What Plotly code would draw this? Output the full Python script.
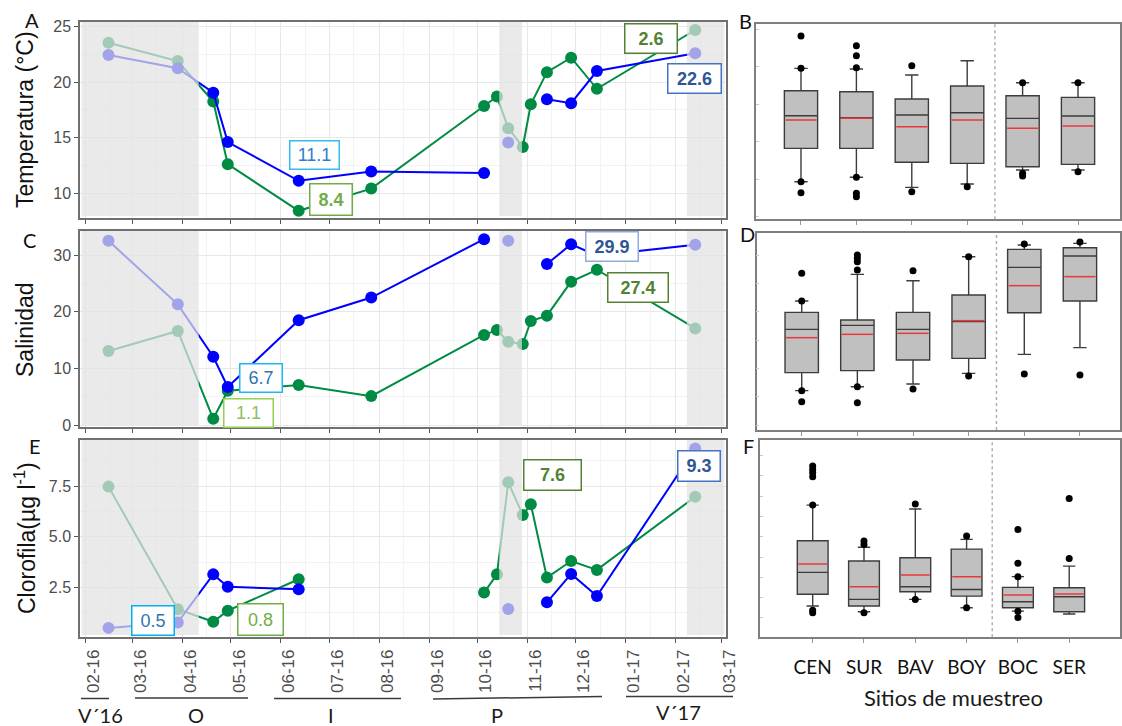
import plotly.graph_objects as go
from datetime import datetime, timedelta

W, H = 1122, 726
def fx(p): return p / W
def fy(p): return 1 - p / H

# ---------------- data: time series (left panels) ----------------
fechas = ["2016-02-15", "2016-03-29", "2016-04-20", "2016-04-29", "2016-06-12", "2016-07-27",
          "2016-10-05", "2016-10-13", "2016-10-20", "2016-10-29", "2016-11-03", "2016-11-13",
          "2016-11-28", "2016-12-14", "2017-02-13"]
temp_azul = [22.45, 21.25, 19.05, 14.6, 11.1, 11.95, 11.8, None, 14.55, None, None, 18.45, 18.1, 21.0, 22.6]
temp_verde = [23.55, 21.9, 18.25, 12.6, 8.4, 10.4, 17.85, 18.7, 15.85, 14.15, 18.0, 20.9, 22.2, 19.4, 24.7]
sal_azul = [32.5, 21.3, 12.05, 6.7, 18.5, 22.5, 32.8, None, 32.5, None, None, 28.4, 31.9, 29.9, 31.8]
sal_verde = [13.05, 16.6, 1.1, 6.05, 7.05, 5.1, 15.9, 16.75, 14.7, 14.3, 18.35, 19.3, 25.3, 27.4, 17.05]
clo_azul = [0.5, 0.77, 3.14, 2.53, 2.4, None, None, None, 1.43, None, None, 1.76, 3.16, 2.07, 9.35]
clo_verde = [7.47, 1.42, 0.8, 1.35, 2.9, None, 2.24, 3.14, 7.68, 6.07, 6.6, 2.98, 3.8, 3.36, 6.97]

estaciones = ["V´16", "O", "I", "P", "V´17"]

# ---------------- data: box plots (right panels) ----------------
sitios = ["CEN", "SUR", "BAV", "BOY", "BOC", "SER"]

temp_q1 = [14.13, 14.13, 12.27, 12.13, 11.68, 12.0]
temp_med = [18.48, 18.21, 18.57, 18.88, 18.13, 18.44]
temp_q3 = [21.81, 21.68, 20.71, 22.44, 21.15, 20.93]
temp_lo = [9.68, 10.27, 8.93, 9.37, 11.24, 11.24]
temp_hi = [24.8, 24.71, 23.91, 25.81, 22.88, 22.88]
temp_media = [17.91, 18.13, 17.01, 17.91, 16.8, 17.11]
temp_atip = [[29.11, 24.8, 9.68, 8.21], [27.81, 26.48, 24.88, 10.27, 8.13, 7.68],
             [25.15, 8.35], [9.01], [22.88, 10.8, 10.44], [22.88, 11.01]]

sal_q1 = [9.24, 9.59, 11.47, 11.76, 19.82, 21.88]
sal_med = [16.88, 17.59, 16.88, 18.24, 27.82, 29.82]
sal_q3 = [19.88, 18.53, 19.88, 22.94, 31.0, 31.29]
sal_lo = [6.06, 6.76, 7.24, 9.12, 12.47, 13.65]
sal_hi = [21.88, 26.59, 25.47, 29.7, 31.76, 32.06]
sal_media = [15.41, 16.0, 16.18, 18.41, 24.59, 26.18]
sal_atip = [[26.77, 21.88, 6.06, 4.12], [30.0, 29.41, 28.82, 27.35, 6.76, 3.94],
            [27.24, 6.35], [29.7, 8.65], [31.94, 9.0], [32.29, 8.82]]

clo_q1 = [2.16, 1.58, 2.29, 2.07, 1.50, 1.30]
clo_med = [3.24, 1.91, 2.53, 2.40, 1.79, 2.04]
clo_q3 = [4.80, 3.80, 3.96, 4.39, 2.50, 2.48]
clo_lo = [1.58, 1.30, 1.91, 1.50, 1.33, 1.19]
clo_hi = [6.56, 4.48, 6.37, 4.87, 3.03, 3.55]
clo_media = [3.65, 2.53, 3.11, 3.03, 2.12, 2.17]
clo_atip = [[8.49, 8.32, 8.16, 7.96, 6.56, 1.38, 1.25], [4.79, 4.62, 1.25], [6.61, 1.91],
            [5.03, 1.50], [5.36, 3.69, 3.03, 1.33, 1.02], [6.89, 3.93]]

# ---------------- styles ----------------
ARIAL = "Liberation Sans, Arial, sans-serif"
CALIBRI = "Lato, Open Sans, sans-serif"
AZUL = "#0000ff"
VERDE = "#008b45"
TICKC = "#4d4d4d"
X_RANGE = ["2016-01-28 08:00", "2017-03-04 02:00"]

fig = go.Figure()

left = [("x", "y", temp_verde, temp_azul), ("x2", "y2", sal_verde, sal_azul), ("x3", "y3", clo_verde, clo_azul)]
for xa, ya, verde, azul in left:
    for vals, col in ((verde, VERDE), (azul, AZUL)):
        fig.add_trace(go.Scatter(x=fechas, y=vals, xaxis=xa, yaxis=ya, mode="lines+markers",
                                 connectgaps=False, line=dict(color=col, width=2),
                                 marker=dict(color=col, size=12), showlegend=False, hoverinfo="skip"))

# right panels
BOXW = 0.6
right = [("x4", "y4", temp_q1, temp_med, temp_q3, temp_lo, temp_hi, temp_media, temp_atip),
         ("x5", "y5", sal_q1, sal_med, sal_q3, sal_lo, sal_hi, sal_media, sal_atip),
         ("x6", "y6", clo_q1, clo_med, clo_q3, clo_lo, clo_hi, clo_media, clo_atip)]
for xa, ya, q1, med, q3, lo, hi, media, atip in right:
    pos = list(range(len(sitios)))
    fig.add_trace(go.Box(x=pos, q1=q1, median=med, q3=q3, lowerfence=lo, upperfence=hi,
                         xaxis=xa, yaxis=ya, width=BOXW, whiskerwidth=0.4, boxpoints=False,
                         fillcolor="#c0c0c0", line=dict(color="#3c3c3c", width=1.4),
                         showlegend=False, hoverinfo="skip"))
    mx, my = [], []
    for i, m in enumerate(media):
        mx += [i - BOXW / 2 + 0.02, i + BOXW / 2 - 0.02, None]
        my += [m, m, None]
    fig.add_trace(go.Scatter(x=mx, y=my, xaxis=xa, yaxis=ya, mode="lines",
                             line=dict(color="#e8383d", width=1.5), showlegend=False, hoverinfo="skip"))
    ox, oy = [], []
    for i, lst in enumerate(atip):
        ox += [i] * len(lst)
        oy += lst
    fig.add_trace(go.Scatter(x=ox, y=oy, xaxis=xa, yaxis=ya, mode="markers",
                             marker=dict(color="black", size=7), showlegend=False, hoverinfo="skip"))

# ---------------- axes ----------------
minor_vals = []
for k in range(16):
    y_, m_ = 2016 + (k // 12), (k % 12) + 1
    minor_vals.append(f"{y_}-{m_:02d}-16")

LDOM = [fx(80), fx(726)]
panels_y = {"y": (218, 22), "y2": (427, 231), "y3": (637, 440)}

def left_x(anchor, labels):
    return dict(type="date", range=X_RANGE, domain=LDOM, anchor=anchor, automargin=False,
                showline=True, mirror=True, linecolor="#707070", linewidth=1.5,
                ticks="outside", ticklen=4, tickcolor="#555", tickwidth=1,
                dtick="M1", tick0="2016-02-01", tickformat="%m-%y", tickangle=-90,
                showticklabels=labels, ticklabelshift=8,
                tickfont=dict(family=ARIAL, size=17, color=TICKC),
                showgrid=True, gridcolor="#e8e8e8", gridwidth=1, zeroline=False,
                minor=dict(tickmode="array", tickvals=minor_vals, showgrid=True,
                           gridcolor="#f3f3f3", ticks=""))

def left_y(anchor, dom, rng, dtick, minor_dtick, fmt=None):
    d = dict(domain=[fy(dom[0]), fy(dom[1])], anchor=anchor, range=rng, automargin=False,
             showline=True, mirror=True, linecolor="#707070", linewidth=1.5,
             ticks="outside", ticklen=4, tickcolor="#555", tickwidth=1,
             dtick=dtick, tick0=0, tickfont=dict(family=ARIAL, size=16, color=TICKC),
             showgrid=True, gridcolor="#e8e8e8", zeroline=False,
             minor=dict(dtick=minor_dtick, tick0=0, showgrid=True, gridcolor="#f3f3f3", ticks=""))
    if fmt:
        d["tickformat"] = fmt
    return d

layout = dict(
    template="none",
    width=W, height=H, autosize=False, margin=dict(l=0, r=0, t=0, b=0, pad=0),
    paper_bgcolor="white", plot_bgcolor="white", showlegend=False,
    xaxis=left_x("y", False),
    xaxis2=left_x("y2", False),
    xaxis3=left_x("y3", True),
    yaxis=left_y("x", panels_y["y"], [7.75, 25.42], 5, 2.5),
    yaxis2=left_y("x2", panels_y["y2"], [-0.35, 34.24], 10, 5),
    yaxis3=left_y("x3", panels_y["y3"], [0.05, 9.77], 2.5, 1.25, ".1f"),
)

def right_x(anchor, dom, rng, labels):
    d = dict(domain=[fx(dom[0]), fx(dom[1])], anchor=anchor, range=rng, automargin=False,
             tickmode="array", tickvals=list(range(len(sitios))), ticktext=sitios,
             showticklabels=labels, ticks="outside", ticklen=4, tickcolor="#999",
             showline=True, mirror=True, linecolor="#7f7f7f", linewidth=1.5,
             showgrid=False, zeroline=False)
    if labels:
        d["tickfont"] = dict(family=CALIBRI, size=19, color="#111")
        d["ticklabelstandoff"] = 8
    return d

def right_y(anchor, dom, rng, dtick):
    return dict(domain=[fy(dom[0]), fy(dom[1])], anchor=anchor, range=rng, automargin=False,
                showticklabels=False, ticks="inside", ticklen=3, tickcolor="#c8c8c8",
                dtick=dtick, showline=True, mirror=True, linecolor="#7f7f7f", linewidth=1.5,
                showgrid=False, zeroline=False)

layout["xaxis4"] = right_x("y4", (756, 1120), [-0.812, 5.758], False)
layout["xaxis5"] = right_x("y5", (756.7, 1120), [-0.809, 5.72], False)
layout["xaxis6"] = right_x("y6", (760, 1120), [-1.027, 5.99], True)
layout["yaxis4"] = right_y("x4", (219.3, 24), [4.67, 30.71], 5)
layout["yaxis5"] = right_y("x5", (430, 233.3), [-0.88, 33.83], 5)
layout["yaxis6"] = right_y("x6", (637.3, 440), [0.04, 9.77], 1)

# ---------------- shapes ----------------
shapes = []
r0 = datetime.strptime(X_RANGE[0], "%Y-%m-%d %H:%M") + timedelta(days=1)
r1 = datetime.strptime(X_RANGE[1], "%Y-%m-%d %H:%M") - timedelta(days=1)
bands = [(r0.strftime("%Y-%m-%d %H:%M"), "2016-04-11"),
         ("2016-10-14 10:00", "2016-10-28 12:00"),
         ("2017-02-07 20:00", r1.strftime("%Y-%m-%d %H:%M"))]
for xa, ya in (("x", "y"), ("x2", "y2"), ("x3", "y3")):
    for b0, b1 in bands:
        shapes.append(dict(type="rect", xref=xa, yref=f"{ya} domain", x0=b0, x1=b1, y0=0.01, y1=1,
                           fillcolor="rgba(226,226,226,0.72)", line=dict(width=0), layer="above"))
for xa, ya in (("x4", "y4"), ("x5", "y5"), ("x6", "y6")):
    shapes.append(dict(type="line", xref=xa, yref=f"{ya} domain", x0=3.5, x1=3.5, y0=0, y1=1,
                       line=dict(color="#b0b0b0", width=1.5, dash="dot")))

# season underlines
season_lines = [(81, 109, 698.5, 698.5), (135, 248, 698, 698), (274, 401, 698.5, 698.5),
                (433, 602, 699, 696.5), (626, 733, 696.5, 696.5)]
for xa0, xa1, ya0, ya1 in season_lines:
    shapes.append(dict(type="line", xref="paper", yref="paper", x0=fx(xa0), x1=fx(xa1),
                       y0=fy(ya0), y1=fy(ya1), line=dict(color="#3a3a3a", width=1.5)))
layout["shapes"] = shapes

# ---------------- annotations ----------------
ann = []
season_pos = [(100, 715), (196, 715), (331, 715), (497, 715), (678, 712)]
for txt, (px, py) in zip(estaciones, season_pos):
    ann.append(dict(text=txt, x=fx(px), y=fy(py), xref="paper", yref="paper", showarrow=False,
                    font=dict(family=CALIBRI, size=20, color="#1a1a1a"), xanchor="center",
                    yanchor="middle", borderpad=0))

for txt, px, py in (("A", 32, 20), ("B", 745, 21), ("C", 29, 240), ("D", 747, 234), ("E", 35, 446), ("F", 748, 446)):
    ann.append(dict(text=txt, x=fx(px), y=fy(py), xref="paper", yref="paper", showarrow=False,
                    font=dict(family=CALIBRI, size=20, color="#111"), xanchor="center", yanchor="middle"))

for txt, py in (("Temperatura (°C)", 120), ("Salinidad", 330), ("Clorofila(µg l<sup>-1</sup>)", 538)):
    ann.append(dict(text=txt, x=fx(25), y=fy(py), xref="paper", yref="paper", showarrow=False,
                    textangle=-90, font=dict(family=ARIAL, size=23, color="#111"),
                    xanchor="center", yanchor="middle"))

ann.append(dict(text="Sitios de muestreo", x=fx(953), y=fy(697), xref="paper", yref="paper",
                showarrow=False, font=dict(family=CALIBRI, size=22, color="#1a1a1a"),
                xanchor="center", yanchor="middle"))

# value boxes: (text, x, y, xref, yref, border, color, bold, w, h)
boxes = [
    ("11.1", "2016-06-22", 13.44, "x", "y", "#33bbee", "#2b7fcc", False, 44, 23),
    ("8.4", "2016-07-01 18:00", 9.39, "x", "y", "#70ad47", "#70ad47", True, 37, 26),
    ("2.6", "2017-01-16 16:00", 23.94, "x", "y", "#548235", "#548235", True, 47, 24),
    ("22.6", "2017-02-12 14:00", 20.33, "x", "y", "#4472c4", "#2f5597", True, 48, 24),
    ("6.7", "2016-05-19 14:00", 8.29, "x2", "y2", "#1fb5f0", "#2e75b6", False, 37, 23),
    ("1.1", "2016-05-11 18:00", 2.12, "x2", "y2", "#92d050", "#8dc063", False, 44, 23),
    ("29.9", "2016-12-23 10:00", 31.59, "x2", "y2", "#8faadc", "#2f5597", True, 47, 24),
    ("27.4", "2017-01-08 12:00", 24.35, "x2", "y2", "#548235", "#548235", True, 55, 24),
    ("0.5", "2016-03-13 14:00", 0.84, "x3", "y3", "#00b0f0", "#2e75b6", False, 37, 24),
    ("0.8", "2016-05-19 08:00", 0.89, "x3", "y3", "#70ad47", "#70ad47", False, 40, 26),
    ("7.6", "2016-11-16 06:00", 8.04, "x3", "y3", "#548235", "#548235", True, 52, 25),
    ("9.3", "2017-02-15 06:00", 8.49, "x3", "y3", "#4472c4", "#2f5597", True, 37, 25),
]
for txt, x, y, xr, yr, bc, tc, bold, w, h in boxes:
    ann.append(dict(text=f"<b>{txt}</b>" if bold else txt, x=x, y=y, xref=xr, yref=yr,
                    showarrow=False, bordercolor=bc, borderwidth=1.5, borderpad=2, bgcolor="white",
                    width=w, height=h, font=dict(family=ARIAL, size=18, color=tc),
                    xanchor="center", yanchor="middle", align="center"))
layout["annotations"] = ann

fig.update_layout(**layout)
fig.write_html("out.html", config={"displayModeBar": False},
               post_script="document.body.style.margin='0px';document.body.style.padding='0px';"
                           "document.documentElement.style.overflow='hidden';")
